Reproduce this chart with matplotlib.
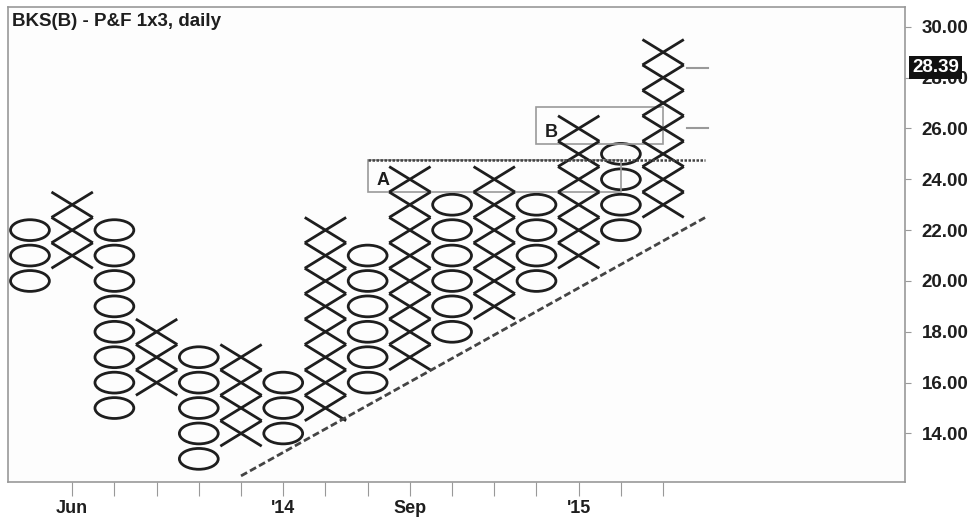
import matplotlib
matplotlib.use('Agg')
import matplotlib.pyplot as plt
from matplotlib.patches import Ellipse, Rectangle

plt.rcParams['font.family'] = ['Liberation Sans', 'DejaVu Sans']

# P&F columns: type, lowest box, highest box (box size 1.00)
col_type = ['O', 'X', 'O', 'X', 'O', 'X', 'O', 'X', 'O', 'X', 'O', 'X', 'O', 'X', 'O', 'X']
col_low = [20, 21, 15, 16, 13, 14, 14, 15, 16, 17, 18, 19, 20, 21, 22, 23]
col_high = [22, 23, 22, 18, 17, 17, 16, 22, 21, 24, 23, 24, 23, 26, 25, 29]

date_ticks = [1, 6, 9, 13]
date_labels = ['Jun', "'14", 'Sep', "'15"]
price_ticks = [14, 16, 18, 20, 22, 24, 26, 28, 30]
last_price = 28.39

trend_x = [5.0, 16.0]
trend_y = [12.33, 22.5]
resist_x = [8.0, 16.0]
resist_y = [24.75, 24.75]
box_a = (8.0, 23.5, 14.0, 24.75)
box_b = (12.0, 25.4, 15.0, 26.85)
marks_y = [28.39, 26.0]

ink = '#1e1e1e'
fig = plt.figure(figsize=(9.77, 5.19), dpi=100)
fig.patch.set_facecolor('white')
ax = fig.add_axes([0.0082, 0.0713, 0.9181, 0.9152])
ax.set_facecolor('#fdfdfd')

for i, (t, lo, hi) in enumerate(zip(col_type, col_low, col_high)):
    for v in range(lo, hi + 1):
        if t == 'X':
            ax.plot([i - 0.49, i + 0.49], [v - 0.5, v + 0.5], color=ink, lw=2.0, solid_capstyle='butt')
            ax.plot([i - 0.49, i + 0.49], [v + 0.5, v - 0.5], color=ink, lw=2.0, solid_capstyle='butt')
        else:
            ax.add_patch(Ellipse((i, v), 0.92, 0.82, fill=False, ec=ink, lw=2.0))

ax.plot(trend_x, trend_y, color='#444444', lw=2, ls=(0, (2.5, 1.2)))
ax.plot(resist_x, resist_y, color='#444444', lw=1.8, ls=(0, (1, 0.6)))

for (x0, y0, x1, y1) in [box_a, box_b]:
    ax.add_patch(Rectangle((x0, y0), x1 - x0, y1 - y0, fill=False, ec='#9a9a9a', lw=1.2))
ax.text(8.2, 23.95, 'A', fontsize=13, fontweight='bold', color=ink, ha='left', va='center')
ax.text(12.2, 25.85, 'B', fontsize=13, fontweight='bold', color=ink, ha='left', va='center')

for y in marks_y:
    ax.plot([15.57, 16.07], [y, y], color='#999999', lw=1.5)

ax.set_xlim(-0.52, 20.73)
ax.set_ylim(12.09, 30.78)

ax.yaxis.tick_right()
ax.set_yticks(price_ticks)
ax.set_yticklabels(['%.2f' % p for p in price_ticks])
ax.set_xticks(range(1, 16))
ax.set_xticklabels([date_labels[date_ticks.index(k)] if k in date_ticks else '' for k in range(1, 16)])
ax.tick_params(axis='y', length=4, pad=8, colors='#999999', labelcolor=ink, labelsize=13.5)
ax.tick_params(axis='x', length=10, pad=3, colors='#999999', labelcolor=ink, labelsize=13)
for lab in ax.get_xticklabels() + ax.get_yticklabels():
    lab.set_fontweight('bold')
for s in ax.spines.values():
    s.set_color('#999999')
    s.set_linewidth(1.2)

ax.text(0.004, 0.988, 'BKS(B) - P&F 1x3, daily', transform=ax.transAxes, fontsize=13.5,
        fontweight='bold', color=ink, ha='left', va='top')

ax.annotate('%.2f' % last_price, xy=(1.0, last_price), xycoords=('axes fraction', 'data'),
            xytext=(5, 0), textcoords='offset points', fontsize=13.5, fontweight='bold',
            color='white', ha='left', va='center',
            bbox=dict(boxstyle='square,pad=0.15', fc='#111111', ec='none'))

fig.savefig('out.png', dpi=100)
